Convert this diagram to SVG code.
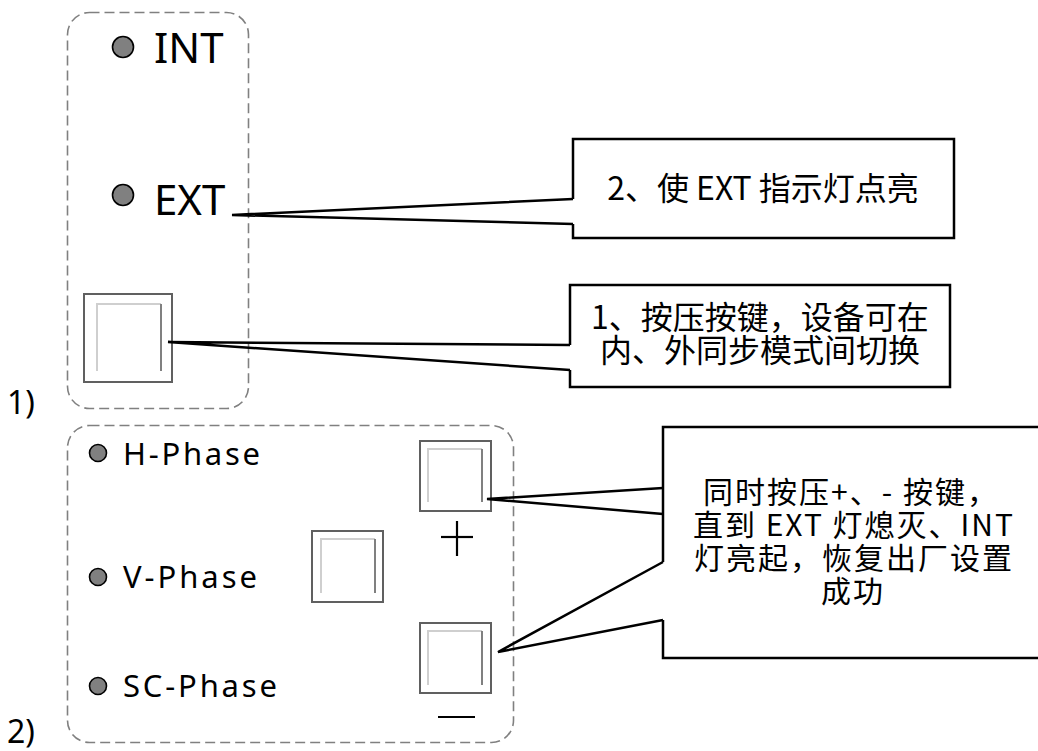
<svg xmlns="http://www.w3.org/2000/svg" width="1038" height="751" viewBox="0 0 1038 751">
<style>
.frame{fill:none;stroke:#808080;stroke-width:1.6;stroke-dasharray:10 5}
.dot{fill:#808080;stroke:#000;stroke-width:1.6}
.lbl{font-family:"Noto Sans","Liberation Sans",sans-serif;fill:#000}
.cjk{font-family:"Noto Sans CJK SC","Noto Sans",sans-serif;font-size:32px;fill:#000;text-anchor:middle}
.cjk3{font-size:30px;letter-spacing:2px}
.btn{fill:#fff;stroke:#606060;stroke-width:2}
.bl{fill:none;stroke:#cfcfcf;stroke-width:2}
.br{fill:none;stroke:#808080;stroke-width:2}
.box{fill:#fff;stroke:#000;stroke-width:2.5}
.edge{fill:none;stroke:#000;stroke-width:2.5;stroke-linejoin:miter}
.sign{stroke:#000;stroke-width:2.2}
</style>
<rect width="1038" height="751" fill="#fff"/>
<g id="panel1">
<rect class="frame" x="67.5" y="12.5" width="181" height="396" rx="22"/>
<text class="lbl" x="7" y="414" font-size="32">1)</text>
</g>
<g id="panel2">
<rect class="frame" x="67.5" y="425.5" width="446" height="317" rx="22"/>
<text class="lbl" x="7" y="743" font-size="32">2)</text>
</g>
<g id="int">
<circle class="dot" cx="123" cy="47" r="10.5"/>
<text class="lbl" x="154" y="63" font-size="42">INT</text>
</g>
<g id="ext">
<circle class="dot" cx="123" cy="195" r="10.5"/>
<text class="lbl" x="154" y="215" font-size="42">EXT</text>
</g>
<g id="button1">
<rect class="btn" x="84" y="294" width="88" height="88"/>
<path class="bl" d="M97,371 V304 H161"/>
<path class="br" d="M161,304 V371"/>
</g>
<g id="hphase">
<circle class="dot" cx="98" cy="453" r="8.5"/>
<text class="lbl" x="123" y="465" font-size="31" textLength="137" lengthAdjust="spacing">H-Phase</text>
</g>
<g id="vphase">
<circle class="dot" cx="98" cy="577" r="8.5"/>
<text class="lbl" x="123" y="588" font-size="31" textLength="134" lengthAdjust="spacing">V-Phase</text>
</g>
<g id="scphase">
<circle class="dot" cx="98" cy="686" r="8.5"/>
<text class="lbl" x="123" y="697" font-size="31" textLength="154" lengthAdjust="spacing">SC-Phase</text>
</g>
<g id="button-plus">
<rect class="btn" x="420" y="441" width="71" height="70"/>
<path class="bl" d="M428,502 V449 H482"/>
<path class="br" d="M482,449 V502"/>
<line class="sign" x1="441" y1="537" x2="473" y2="537"/>
<line class="sign" x1="457" y1="521" x2="457" y2="556"/>
</g>
<g id="button-mid">
<rect class="btn" x="312" y="531" width="71" height="71"/>
<path class="bl" d="M321,593 V539 H375"/>
<path class="br" d="M375,539 V593"/>
</g>
<g id="button-minus">
<rect class="btn" x="420" y="623" width="71" height="70"/>
<path class="bl" d="M428,685 V631 H482"/>
<path class="br" d="M482,631 V685"/>
<line class="sign" x1="438" y1="717" x2="475" y2="717"/>
</g>
<g id="callout2">
<path class="box" d="M573,224 V238 H954 V139 H573 V199"/>
<text class="cjk" x="763" y="200">2、使 EXT 指示灯点亮</text>
</g>
<g id="callout1">
<path class="box" d="M570,370 V387 H950 V285 H570 V345"/>
<text class="cjk" x="760" y="329">1、按压按键，设备可在<tspan x="760" dy="33">内、外同步模式间切换</tspan></text>
</g>
<g id="callout3">
<path class="box" d="M663,562 V427 H1045 V658 H663 V620"/>
<text class="cjk cjk3" x="851" y="503">同时按压+、- 按键，<tspan x="854" dy="33">直到 EXT 灯熄灭、INT</tspan><tspan x="854" dy="33">灯亮起，恢复出厂设置</tspan><tspan x="853" dy="33">成功</tspan></text>
</g>
<g id="connectors">
<path class="edge" d="M573,199 L232,215 L573,224"/>
<path class="edge" d="M570,345 L168,342 L570,370"/>
<path class="edge" d="M663,488 L487,499 L663,514"/>
<path class="edge" d="M663,562 L498,652 L663,620"/>
</g>
</svg>
